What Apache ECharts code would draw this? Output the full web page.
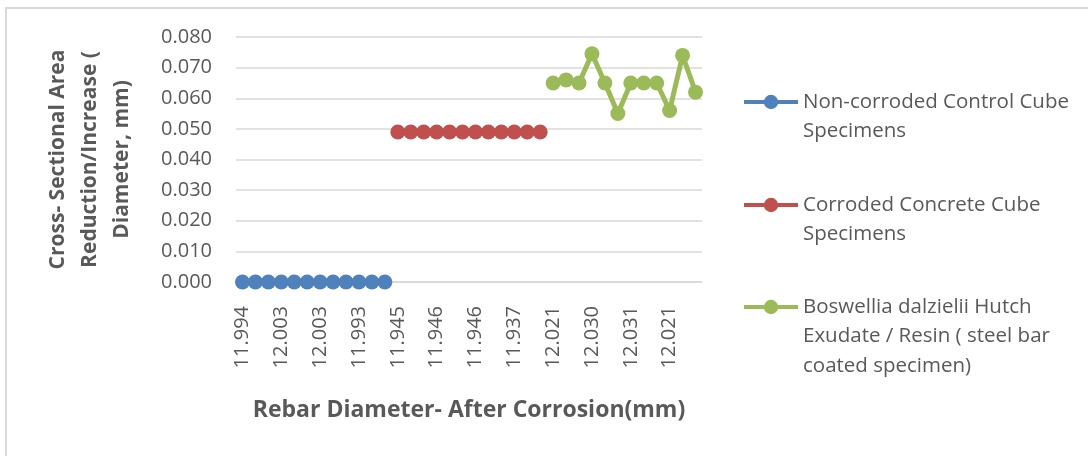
<!DOCTYPE html>
<html>
<head>
<meta charset="utf-8">
<script src="https://cdn.jsdelivr.net/npm/echarts@6/dist/echarts.min.js"></script>
<style>
  html, body { margin: 0; padding: 0; background: #fff; }
  #chart { width: 1088px; height: 456px; }
</style>
</head>
<body>
<div id="chart"></div>
<script>
// rebar diameters after corrosion (only every 3rd one is printed on the axis)
var controlDiam = ['11.994', '12.001', '11.998', '12.003', '11.996', '12.000', '12.003', '11.997', '11.995', '11.993', '11.999', '12.002'];
var corrodedDiam = ['11.945', '11.944', '11.947', '11.946', '11.943', '11.948', '11.946', '11.942', '11.940', '11.937', '11.944', '11.941'];
var coatedDiam = ['12.021', '12.025', '12.028', '12.030', '12.026', '12.034', '12.031', '12.027', '12.024', '12.021', '12.029', '12.032'];

var controlVals = [0, 0, 0, 0, 0, 0, 0, 0, 0, 0, 0, 0];
var corrodedVals = [0.049, 0.049, 0.049, 0.049, 0.049, 0.049, 0.049, 0.049, 0.049, 0.049, 0.049, 0.049];
var coatedVals = [0.065, 0.066, 0.065, 0.0745, 0.065, 0.055, 0.065, 0.065, 0.065, 0.056, 0.074, 0.062];

var seriesNames = [
  'Non-corroded Control Cube Specimens',
  'Corroded Concrete Cube Specimens',
  'Boswellia dalzielii Hutch Exudate / Resin ( steel bar coated specimen)'
];
var legendText = [
  'Non-corroded Control Cube\nSpecimens',
  'Corroded Concrete Cube\nSpecimens',
  'Boswellia dalzielii Hutch\nExudate / Resin ( steel bar\ncoated specimen)'
];
var colors = ['#4F81BD', '#C0504D', '#9BBB59'];

var font = 'Open Sans';
var txt = '#595959';
var categories = controlDiam.concat(corrodedDiam, coatedDiam);

function blanks(n) {
  var a = [];
  for (var i = 0; i < n; i++) a.push(null);
  return a;
}
var groups = [controlVals, corrodedVals, coatedVals];
var series = groups.map(function (vals, i) {
  var data = blanks(12 * i).concat(vals, blanks(12 * (2 - i)));
  return {
    name: seriesNames[i],
    type: 'line',
    data: data,
    symbol: 'circle',
    symbolSize: 15,
    showAllSymbol: true,
    color: colors[i],
    lineStyle: { width: 5, color: colors[i] },
    itemStyle: { color: colors[i] },
    connectNulls: false,
    animation: false
  };
});

// one legend box per series; blank lines on top keep the icon on the first text line
var lh = 29.5;
var iconY = [102, 205, 307];
var legends = legendText.map(function (t, i) {
  var n = t.split('\n').length;
  var shown = new Array(n).join('\n') + t;
  return {
    left: 742,
    top: iconY[i] - (2 * n - 1) * lh / 2,
    orient: 'vertical',
    padding: 0,
    itemWidth: 54,
    itemHeight: 18,
    itemGap: 5,
    data: [seriesNames[i]],
    lineStyle: { width: 4 },
    formatter: function () { return shown; },
    textStyle: { fontFamily: font, fontSize: 20.5, color: txt, lineHeight: lh }
  };
});

var chart = echarts.init(document.getElementById('chart'));
chart.setOption({
  backgroundColor: '#fff',
  animation: false,
  legend: legends,
  grid: { left: 236, right: 386, top: 37, bottom: 174 },
  xAxis: {
    type: 'category',
    data: categories,
    boundaryGap: true,
    name: 'Rebar Diameter- After Corrosion(mm)',
    nameLocation: 'middle',
    nameGap: 117,
    nameTextStyle: { fontFamily: font, fontSize: 23, fontWeight: 'bold', color: txt },
    axisLine: { lineStyle: { color: '#D9D9D9', width: 1.5 } },
    axisTick: { show: false },
    axisLabel: {
      interval: 2, rotate: 90, margin: 24,
      fontFamily: font, fontSize: 20, color: txt
    },
    splitLine: { show: false }
  },
  yAxis: {
    type: 'value',
    min: 0, max: 0.08, interval: 0.01,
    name: 'Cross- Sectional Area\nReduction/Increase (\nDiameter, mm)',
    nameLocation: 'middle',
    nameGap: 98,
    nameTextStyle: { fontFamily: font, fontSize: 21, fontWeight: 'bold', color: txt, lineHeight: 32 },
    axisLine: { show: false },
    axisTick: { show: false },
    axisLabel: {
      margin: 24, fontFamily: font, fontSize: 20, color: txt,
      formatter: function (v) { return v.toFixed(3); }
    },
    splitLine: { lineStyle: { color: '#D9D9D9', width: 1.5 } }
  },
  graphic: [{
    type: 'rect',
    silent: true,
    shape: { x: 6, y: 8, width: 1200, height: 600 },
    style: { fill: null, stroke: '#D9D9D9', lineWidth: 2 }
  }],
  series: series
});
</script>
</body>
</html>
